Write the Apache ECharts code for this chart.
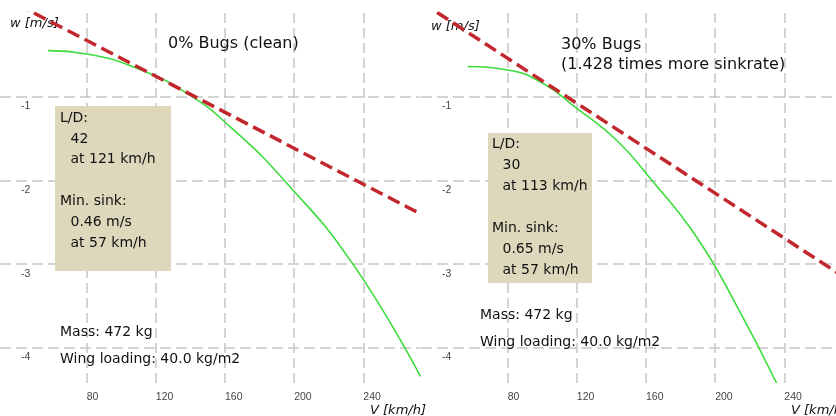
<!DOCTYPE html>
<html>
<head>
<meta charset="utf-8">
<script src="https://cdn.jsdelivr.net/npm/echarts@6/dist/echarts.min.js"></script>
<style>
  html, body { margin: 0; padding: 0; background: #fff; }
  #chart { width: 836px; height: 416px; }
</style>
</head>
<body>
<div id="chart"></div>
<script>
// speed ticks (km/h) and sink ticks (m/s)
const speedTicks = [80, 120, 160, 200, 240];
const sinkTicks = [-4, -3, -2, -1];

// polar curves: [speed km/h, sink m/s]
const polarClean = [
  [57.7, -0.45], [80, -0.49], [109, -0.66], [138, -0.96],
  [163, -1.36], [196, -2.04], [234, -3.0], [273, -4.34]
];
const polarBugs = [
  [56.8, -0.64], [80, -0.68], [100.3, -0.84], [120, -1.14],
  [143, -1.52], [163, -1.99], [189, -2.67], [212, -3.48], [235.5, -4.42]
];

// best glide tangent lines
const tangentClean = [[30, 0.21], [273, -2.40]];
const tangentBugs = [[30, 0.13], [272, -3.12]];

const panelTitles = [["0% Bugs (clean)"], ["30% Bugs", "(1.428 times more sinkrate)"]];
const bestLD = [42, 30];
const bestLDSpeed = [121, 113];
const minSink = ["0.46", "0.65"];
const minSinkSpeed = [57, 57];
const mass = 472;
const wingLoading = "40.0";

const chart = echarts.init(document.getElementById("chart"), null, { renderer: "canvas" });

const FONT = "DejaVu Sans";
const gridColor = "#c6c6c6";

// panel layout (pixels)
const panels = [
  { left: 0, width: 420, title: [168, 44], box: [55, 106, 116, 165], boxText: 60, info: [60, 332], yName: [10, 24], xName: [370, 411] },
  { left: 421, width: 415, title: [561, 45], box: [488, 133, 104, 150], boxText: 492, info: [480, 315], yName: [431, 27], xName: [791, 411] }
];
const plotTop = 13;
const plotHeight = 370;

const grids = [];
const xAxes = [];
const yAxes = [];
panels.forEach((p, i) => {
  grids.push({ left: p.left, top: plotTop, width: p.width, height: plotHeight });
  xAxes.push({
    type: "value", gridIndex: i, min: 29.86, max: 29.86 + p.width / 1.729,
    axisLine: { show: false },
    axisTick: { show: false, customValues: speedTicks },
    axisLabel: {
      customValues: speedTicks, align: "left", margin: 9,
      fontFamily: "Liberation Sans", fontSize: 10.5, color: "#444"
    },
    splitLine: { show: true, lineStyle: { color: gridColor, width: 1.5, type: [10, 5] } }
  });
  yAxes.push({
    type: "value", gridIndex: i, min: -4.42, max: 0,
    axisLine: { show: false },
    axisTick: { show: false, customValues: sinkTicks },
    axisLabel: {
      customValues: sinkTicks, inside: true, align: "left", verticalAlign: "top",
      margin: 21, padding: [4, 0, 0, 0],
      fontFamily: "Liberation Sans", fontSize: 10.5, color: "#444"
    },
    splitLine: { show: true, lineStyle: { color: gridColor, width: 1.5, type: [11, 5] } }
  });
});

const polarStyle = { color: "#3ddc3d", width: 1.6 };
const tangentStyle = { color: "#c3272e", width: 3.5, type: [13, 6] };

const series = [
  { type: "line", xAxisIndex: 0, yAxisIndex: 0, data: polarClean, smooth: 0.5, showSymbol: false, lineStyle: polarStyle, z: 2 },
  { type: "line", xAxisIndex: 0, yAxisIndex: 0, data: tangentClean, showSymbol: false, lineStyle: tangentStyle, z: 3 },
  { type: "line", xAxisIndex: 1, yAxisIndex: 1, data: polarBugs, smooth: 0.5, showSymbol: false, lineStyle: polarStyle, z: 2 },
  { type: "line", xAxisIndex: 1, yAxisIndex: 1, data: tangentBugs, showSymbol: false, lineStyle: tangentStyle, z: 3 }
];

const graphics = [];
panels.forEach((p, i) => {
  // panel title
  panelTitles[i].forEach((t, k) => {
    graphics.push({
      type: "text", z: 5,
      style: { x: p.title[0], y: p.title[1] + k * 20, text: t, font: "16px " + FONT, fill: "#111", verticalAlign: "middle" }
    });
  });
  // info box
  graphics.push({
    type: "rect", z: 10,
    shape: { x: p.box[0], y: p.box[1], width: p.box[2], height: p.box[3] },
    style: { fill: "#ddd8bb" }
  });
  const lines = [
    ["L/D:", 0], [String(bestLD[i]), 1], ["at " + bestLDSpeed[i] + " km/h", 1], ["", 0],
    ["Min. sink:", 0], [minSink[i] + " m/s", 1], ["at " + minSinkSpeed[i] + " km/h", 1]
  ];
  const firstLine = i === 0 ? 118 : 144.5;
  lines.forEach((ln, k) => {
    if (!ln[0]) return;
    graphics.push({
      type: "text", z: 11,
      style: { x: p.boxText + ln[1] * 10.5, y: firstLine + k * 20.9, text: ln[0], font: "14px " + FONT, fill: "#111", verticalAlign: "middle" }
    });
  });
  // mass / wing loading
  ["Mass: " + mass + " kg", "Wing loading: " + wingLoading + " kg/m2"].forEach((t, k) => {
    graphics.push({
      type: "text", z: 5,
      style: { x: p.info[0], y: p.info[1] + k * 27.5, text: t, font: "14px " + FONT, fill: "#111", verticalAlign: "middle" }
    });
  });
  // axis names
  graphics.push({
    type: "text", z: 1,
    style: { x: p.yName[0], y: p.yName[1], text: "w [m/s]", font: "italic 13px " + FONT, fill: "#111", verticalAlign: "middle" }
  });
  graphics.push({
    type: "text", z: 1,
    style: { x: p.xName[0], y: p.xName[1], text: "V [km/h]", font: "italic 13px " + FONT, fill: "#111", verticalAlign: "middle" }
  });
});

chart.setOption({
  animation: false,
  grid: grids,
  xAxis: xAxes,
  yAxis: yAxes,
  series: series,
  graphic: graphics
});
</script>
</body>
</html>
